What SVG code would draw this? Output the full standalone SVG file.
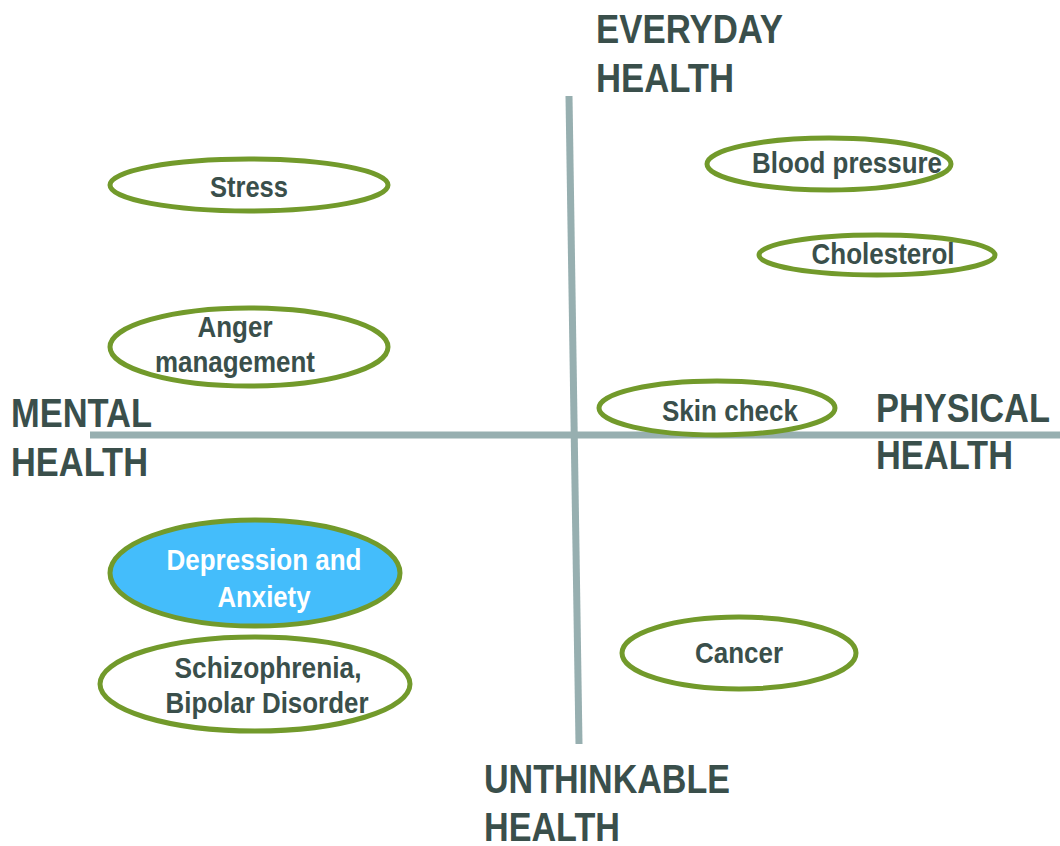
<svg xmlns="http://www.w3.org/2000/svg" width="1060" height="846" viewBox="0 0 1060 846">
<style>
.t{font-family:"Liberation Sans Narrow","Arial Narrow","Liberation Sans",sans-serif;font-weight:bold;fill:#3A4F4B;}
.ax{font-size:41px;}
.nd{font-size:30px;text-anchor:middle;}
.w{fill:#FFFFFF;}
.el{fill:#FFFFFF;stroke:#729A2B;stroke-width:5;}
.axis{stroke:#97AFB0;stroke-width:7;fill:none;}
</style>
<rect width="1060" height="846" fill="#FFFFFF"/>
<g id="axes">
<line class="axis" x1="569" y1="96" x2="579" y2="744"/>
<line class="axis" x1="90" y1="435" x2="1060" y2="435"/>
</g>
<g id="label-everyday"><text class="t ax" x="596" y="43" textLength="187" lengthAdjust="spacingAndGlyphs">EVERYDAY</text><text class="t ax" x="596" y="92" textLength="138" lengthAdjust="spacingAndGlyphs">HEALTH</text></g>
<g id="label-mental"><text class="t ax" x="11" y="427" textLength="141" lengthAdjust="spacingAndGlyphs">MENTAL</text><text class="t ax" x="11" y="476" textLength="137" lengthAdjust="spacingAndGlyphs">HEALTH</text></g>
<g id="label-physical"><text class="t ax" x="876" y="422" textLength="174" lengthAdjust="spacingAndGlyphs">PHYSICAL</text><text class="t ax" x="876" y="469" textLength="137" lengthAdjust="spacingAndGlyphs">HEALTH</text></g>
<g id="label-unthinkable"><text class="t ax" x="484" y="793" textLength="246" lengthAdjust="spacingAndGlyphs">UNTHINKABLE</text><text class="t ax" x="484" y="841" textLength="136" lengthAdjust="spacingAndGlyphs">HEALTH</text></g>
<g id="stress"><ellipse class="el" cx="249" cy="185" rx="139" ry="26"/><text class="t nd" x="249" y="197" textLength="78" lengthAdjust="spacingAndGlyphs">Stress</text></g>
<g id="anger"><ellipse class="el" cx="249" cy="347" rx="139" ry="39"/><text class="t nd" x="235" y="337" textLength="75" lengthAdjust="spacingAndGlyphs">Anger</text><text class="t nd" x="235" y="372" textLength="160" lengthAdjust="spacingAndGlyphs">management</text></g>
<g id="blood"><ellipse class="el" cx="829" cy="164" rx="122" ry="26"/><text class="t nd" x="847" y="173" textLength="190" lengthAdjust="spacingAndGlyphs">Blood pressure</text></g>
<g id="cholesterol"><ellipse class="el" cx="877" cy="255" rx="118" ry="20"/><text class="t nd" x="883" y="264" textLength="143" lengthAdjust="spacingAndGlyphs">Cholesterol</text></g>
<g id="skin"><ellipse class="el" cx="717" cy="408" rx="118" ry="27"/><text class="t nd" x="730" y="421" textLength="136" lengthAdjust="spacingAndGlyphs">Skin check</text></g>
<g id="depression"><ellipse class="el" cx="255" cy="573" rx="145" ry="53" style="fill:#44BDFB;stroke-width:5"/><text class="t nd w" x="264" y="570" textLength="195" lengthAdjust="spacingAndGlyphs">Depression and</text><text class="t nd w" x="264" y="607" textLength="93" lengthAdjust="spacingAndGlyphs">Anxiety</text></g>
<g id="schizo"><ellipse class="el" cx="255" cy="684" rx="155" ry="47"/><text class="t nd" x="268" y="678" textLength="187" lengthAdjust="spacingAndGlyphs">Schizophrenia,</text><text class="t nd" x="267" y="713" textLength="203" lengthAdjust="spacingAndGlyphs">Bipolar Disorder</text></g>
<g id="cancer"><ellipse class="el" cx="739" cy="653" rx="117" ry="36"/><text class="t nd" x="739" y="663" textLength="88" lengthAdjust="spacingAndGlyphs">Cancer</text></g>
</svg>
